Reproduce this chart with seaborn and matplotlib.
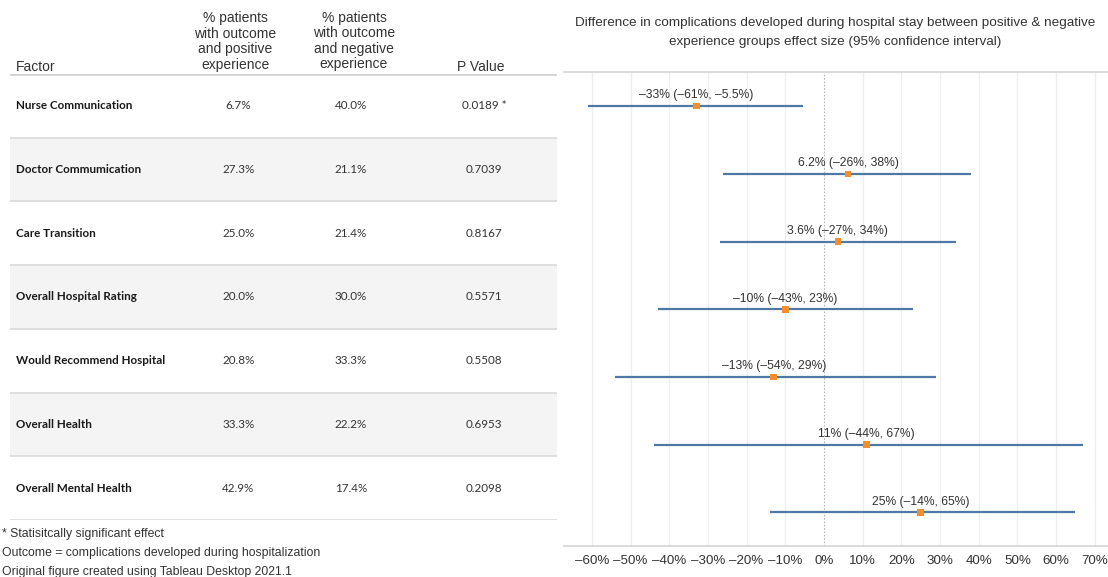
import matplotlib
matplotlib.use("Agg")
import matplotlib.pyplot as plt
import numpy as np
import pandas as pd
import seaborn as sns

# ---- data ---------------------------------------------------------------
factors = [
    "Nurse Communication",
    "Doctor Commumication",
    "Care Transition",
    "Overall Hospital Rating",
    "Would Recommend Hospital",
    "Overall Health",
    "Overall Mental Health",
]
pos_pct = [6.7, 27.3, 25.0, 20.0, 20.8, 33.3, 42.9]
neg_pct = [40.0, 21.1, 21.4, 30.0, 33.3, 22.2, 17.4]
p_values = [0.0189, 0.7039, 0.8167, 0.5571, 0.5508, 0.6953, 0.2098]

effect = [-33, 6.2, 3.6, -10, -13, 11, 25]
ci_low = [-61, -26, -27, -43, -54, -44, -14]
ci_high = [-5.5, 38, 34, 23, 29, 67, 65]

x_ticks = [-60, -50, -40, -30, -20, -10, 0, 10, 20, 30, 40, 50, 60, 70]

df = pd.DataFrame({
    "factor": factors, "row": np.arange(len(factors)),
    "effect": effect, "low": ci_low, "high": ci_high,
})

# ---- style ---------------------------------------------------------------
sns.set_theme(style="white")
plt.rcParams["font.family"] = ["Liberation Sans", "DejaVu Sans"]
TXT = "#333333"
BLUE = "#4e79a7"
ORANGE = "#f28e2b"

W, H = 1108, 577
fig = plt.figure(figsize=(W / 100, H / 100), dpi=100)


def fx(x):
    return x / W


def fy(y):
    return 1 - y / H


def fmt(v):
    return f"{v:.2g}".replace("-", "\u2013") + "%"


# ---- forest plot ---------------------------------------------------------
ax = fig.add_axes([fx(564), fy(546.3), 544 / W, 474 / H])
ax.set_xlim(-67.2, 73.4)
ax.set_ylim(len(factors) - 0.5, -0.5)

for t in x_ticks:
    if t == 0:
        ax.axvline(t, color="#b5b5b5", lw=0.8, ls=(0, (1.5, 1.5)), zorder=1)
    else:
        ax.axvline(t, color="#eeeeee", lw=0.9, zorder=0)

ax.hlines(df["row"], df["low"], df["high"], color=BLUE, lw=1.6, zorder=2)
sns.scatterplot(data=df, x="effect", y="row", marker="s", s=22,
                color=ORANGE, edgecolor="none", zorder=3, ax=ax, legend=False)

for _, r in df.iterrows():
    ax.text(r["effect"], r["row"] - 0.115,
            f"{fmt(r['effect'])} ({fmt(r['low'])}, {fmt(r['high'])})",
            ha="center", va="baseline", fontsize=8.7, color=TXT, zorder=4)

ax.set_xticks(x_ticks)
ax.set_xticklabels([f"{t}%".replace("-", "\u2013") for t in x_ticks],
                   fontsize=9.6, color=TXT)
ax.tick_params(axis="x", length=0, pad=6)
ax.set_yticks([])
ax.set_xlabel("")
ax.set_ylabel("")
for side in ("left", "right"):
    ax.spines[side].set_visible(False)
for side in ("top", "bottom"):
    ax.spines[side].set_color("#d4d4d4")
    ax.spines[side].set_linewidth(1.2)

fig.text(fx(835), fy(23),
         "Difference in complications developed during hospital stay between positive & negative",
         ha="center", va="center", fontsize=9.7, color=TXT)
fig.text(fx(835), fy(42),
         "experience groups effect size (95% confidence interval)",
         ha="center", va="center", fontsize=9.7, color=TXT)

# ---- table ---------------------------------------------------------------
tb = fig.add_axes([fx(10), fy(520), 547 / W, 446 / H])
tb.set_xlim(10, 557)
tb.set_ylim(len(factors), 0)
tb.axis("off")

for i in range(len(factors)):
    if i % 2 == 1:
        tb.axhspan(i, i + 1, color="#f4f4f4", lw=0, zorder=0)
for i in range(1, len(factors) + 1):
    tb.axhline(i, color="#dcdcdc", lw=1.3, zorder=1)
tb.axhline(0, color="#d4d4d4", lw=2.0, zorder=1)

col_factor, col_pos, col_neg, col_p = 16, 238.5, 351, 484
cell_font = ["Lato", "DejaVu Sans"]
for i, name in enumerate(factors):
    yc = i + 0.5
    tb.text(col_factor, yc, name, ha="left", va="center", fontsize=8.4,
            fontweight="bold", family=cell_font, color="#1a1a1a")
    tb.text(col_pos, yc, f"{pos_pct[i]:.1f}%", ha="center", va="center",
            fontsize=8.4, family=cell_font, color=TXT)
    tb.text(col_neg, yc, f"{neg_pct[i]:.1f}%", ha="center", va="center",
            fontsize=8.4, family=cell_font, color=TXT)
    star = " *" if p_values[i] < 0.05 else ""
    tb.text(col_p, yc, f"{p_values[i]:.4f}{star}", ha="center", va="center",
            fontsize=8.4, family=cell_font, color=TXT)

hdr_kw = dict(va="baseline", fontsize=10, color=TXT, linespacing=1.13)
fig.text(fx(16), fy(71), "Factor", ha="left", **hdr_kw)
fig.text(fx(235), fy(68.5), "% patients\nwith outcome\nand positive\nexperience",
         ha="center", multialignment="center", **hdr_kw)
fig.text(fx(354), fy(68), "% patients\nwith outcome\nand negative\nexperience",
         ha="center", multialignment="center", **hdr_kw)
fig.text(fx(481), fy(71), "P Value", ha="center", **hdr_kw)

notes = [
    "* Statisitcally significant effect",
    "Outcome = complications developed during hospitalization",
    "Original figure created using Tableau Desktop 2021.1",
]
for k, line in enumerate(notes):
    fig.text(fx(2), fy(534 + 19 * k), line, ha="left", va="center",
             fontsize=8.8, color=TXT)

fig.savefig("out.png", dpi=100)
